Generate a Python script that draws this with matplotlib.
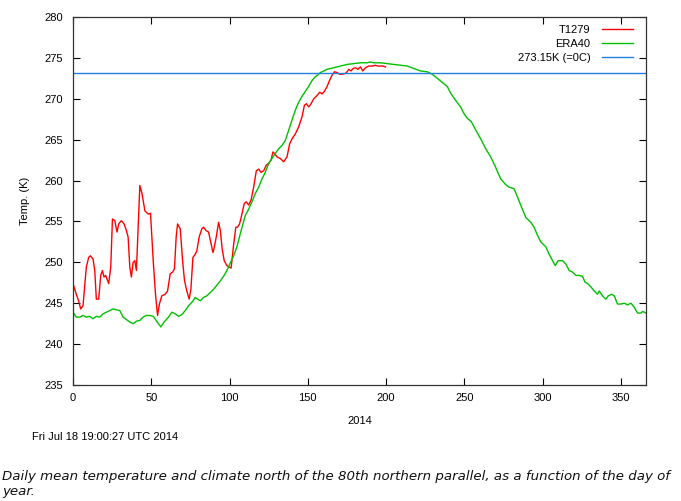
import matplotlib
matplotlib.use("Agg")
import matplotlib.pyplot as plt

# ---- data ----
t1279_day = [0, 2.1, 3.6, 4.9, 6.4, 8.5, 10.0, 11.1, 12.8, 13.9, 14.9, 16.4, 17.7, 18.8, 19.8,
             20.9, 22.8, 24.1, 25.2, 26.7, 28.1, 29.2, 30.9, 32.6, 34.1, 35.2, 36.3, 37.3, 38.4,
             39.5, 40.5, 41.6, 42.7, 44.1, 45.9, 48.0, 49.5, 51.3, 52.7, 54.0, 55.2, 56.7, 58.9,
             60.4, 62.1, 63.6, 64.8, 65.9, 66.8, 68.5, 70.0, 71.2, 72.7, 74.2, 75.3, 76.6, 78.1,
             79.1, 80.6, 82.3, 83.4, 84.9, 86.6, 87.7, 89.4, 90.2, 91.5, 93.0, 94.1, 95.3, 96.6,
             98.3, 100.0, 101.0, 102.5, 104.0, 105.1, 106.4, 107.9, 109.4, 110.7, 112.2, 113.7,
             115.4, 117.1, 118.6, 120.1, 121.8, 123.5, 125.0, 126.5, 127.7, 128.8, 130.3, 132.4,
             134.6, 136.7, 138.4, 139.9, 142.0, 144.2, 146.3, 147.8, 149.1, 150.6, 152.1, 153.8,
             155.9, 157.6, 159.1, 160.6, 162.3, 164.0, 165.5, 167.0, 168.7, 170.4, 171.9, 174.0,
             175.1, 176.1, 177.6, 178.9, 180.4, 181.9, 183.6, 185.1, 186.8, 188.9, 191.1, 193.2,
             194.7, 196.4, 198.1, 199.6]
t1279_temp = [247.4, 246.1, 245.3, 244.3, 244.7, 249.4, 250.6, 250.8, 250.4, 249.0, 245.5, 245.5,
              248.4, 249.0, 248.2, 248.4, 247.4, 249.4, 255.3, 255.1, 253.7, 254.7, 255.1, 254.7,
              253.9, 253.1, 249.4, 248.2, 250.0, 250.2, 249.0, 254.3, 259.4, 258.4, 256.3, 255.9,
              256.0, 250.0, 246.1, 243.5, 244.9, 245.9, 246.1, 246.5, 248.6, 248.8, 249.2, 253.1,
              254.7, 254.1, 250.2, 247.8, 246.5, 245.5, 246.7, 250.6, 251.0, 251.4, 253.1, 254.1,
              254.3, 253.9, 253.7, 252.7, 251.2, 251.8, 253.1, 254.9, 253.9, 251.6, 250.2, 249.6,
              249.4, 249.3, 252.0, 254.3, 254.3, 254.7, 255.9, 257.2, 257.4, 257.0, 257.6, 259.2,
              261.2, 261.4, 261.0, 261.2, 261.9, 262.1, 262.5, 263.5, 263.3, 262.9, 262.7, 262.3,
              262.9, 264.5, 265.1, 265.7, 266.6, 267.8, 269.2, 269.4, 269.0, 269.4, 270.0, 270.4,
              270.8, 270.6, 270.9, 271.5, 272.3, 272.9, 273.3, 273.2, 273.0, 273.0, 273.1, 273.3,
              273.6, 273.4, 273.7, 273.8, 273.6, 273.9, 273.4, 273.8, 274.0, 274.0, 274.1, 274.0,
              274.0, 274.0, 273.9]

era40_day = [0.0, 2.1, 4.3, 6.4, 8.5, 10.7, 12.8, 14.9, 17.1, 19.2, 21.3, 23.5, 25.6, 27.7, 29.9,
             32.0, 34.1, 36.3, 38.4, 40.5, 42.7, 44.8, 46.9, 49.0, 51.3, 53.4, 56.1, 58.2, 61.0,
             63.1, 65.3, 67.4, 69.5, 71.7, 73.8, 75.9, 78.1, 79.6, 81.3, 83.4, 85.5, 87.7, 89.8,
             91.9, 94.0, 96.2, 98.3, 100.4, 102.6, 104.7, 107.0, 110.0, 112.2, 114.3, 116.4, 118.6,
             120.7, 122.8, 125.0, 127.1, 129.2, 131.4, 133.5, 135.6, 137.8, 139.9, 142.0, 144.2,
             146.3, 148.4, 150.5, 152.6, 154.8, 156.9, 158.0, 160.1, 162.3, 164.4, 166.5, 168.7,
             170.8, 172.9, 175.1, 179.3, 183.6, 187.9, 190.0, 192.1, 196.4, 200.7, 204.9, 209.2,
             213.5, 217.7, 222.0, 226.3, 229.5, 232.7, 235.9, 239.1, 241.2, 244.4, 247.6, 249.7,
             251.9, 254.4, 257.2, 260.4, 263.6, 266.8, 270.0, 273.2, 276.4, 278.5, 281.7, 283.9,
             286.4, 289.2, 292.4, 294.5, 296.7, 298.8, 302.0, 304.1, 306.3, 308.0, 309.9, 312.7,
             314.8, 316.9, 319.1, 321.2, 323.3, 325.4, 327.0, 328.7, 330.8, 332.9, 335.0, 336.1,
             338.2, 340.4, 341.9, 344.0, 345.7, 347.8, 350.0, 352.1, 354.2, 356.4, 358.5, 360.6,
             362.8, 363.9, 366.0]
era40_temp = [243.9, 243.3, 243.3, 243.5, 243.3, 243.4, 243.1, 243.4, 243.3, 243.7, 243.9, 244.1,
              244.3, 244.2, 244.1, 243.3, 243.0, 242.7, 242.5, 242.8, 242.9, 243.3, 243.5, 243.5,
              243.4, 242.8, 242.1, 242.7, 243.3, 243.9, 243.7, 243.4, 243.6, 244.1, 244.7, 245.1,
              245.7, 245.5, 245.3, 245.7, 245.9, 246.3, 246.7, 247.2, 247.7, 248.3, 249.0, 249.9,
              250.8, 251.9, 253.6, 255.7, 256.5, 257.4, 258.4, 259.2, 260.2, 261.0, 262.1, 262.7,
              263.3, 263.9, 264.3, 264.9, 266.2, 267.4, 268.6, 269.6, 270.3, 270.9, 271.5, 272.2,
              272.7, 273.0, 273.2, 273.4, 273.6, 273.7, 273.8, 273.9, 274.0, 274.1, 274.2, 274.3,
              274.4, 274.4, 274.5, 274.4, 274.4, 274.3, 274.2, 274.1, 274.0, 273.7, 273.4, 273.3,
              273.0, 272.5, 272.0, 271.5, 270.7, 269.8, 269.0, 268.2, 267.6, 267.2, 266.2, 265.1,
              263.9, 262.9, 261.6, 260.2, 259.5, 259.2, 259.0, 258.0, 256.8, 255.5, 254.9, 254.3,
              253.3, 252.5, 251.9, 251.0, 250.2, 249.6, 250.2, 250.2, 249.8, 249.0, 248.8, 248.4,
              248.4, 248.3, 247.6, 247.4, 247.0, 246.5, 246.1, 246.5, 245.9, 245.5, 245.9, 246.1,
              245.9, 244.9, 244.9, 245.0, 244.8, 245.0, 244.5, 243.8, 243.8, 244.0, 243.8]

freezing_k = 273.15
x_ticks = [0, 50, 100, 150, 200, 250, 300, 350]
y_ticks = [235, 240, 245, 250, 255, 260, 265, 270, 275, 280]
series_labels = ["T1279", "ERA40", "273.15K (=0C)"]
x_label = "2014"
y_label = "Temp. (K)"
timestamp = "Fri Jul 18 19:00:27 UTC 2014"
caption = ("Daily mean temperature and climate north of the 80th northern parallel, as a function of the day of\n"
           "year.")

# ---- figure ----
W, H = 681, 501
fig = plt.figure(figsize=(W / 100, H / 100), dpi=100)
ax = fig.add_axes([73 / W, 1 - 385 / H, (646 - 73) / W, (385 - 17) / H])

chart_font = "Liberation Sans"
ax.plot(t1279_day, t1279_temp, color="#ff0000", lw=1.0, label=series_labels[0])
ax.plot(era40_day, era40_temp, color="#00c000", lw=1.0, label=series_labels[1])
ax.axhline(freezing_k, color="#2080e0", lw=1.0, label=series_labels[2])

ax.set_xlim(0, 366)
ax.set_ylim(235, 280)
ax.set_xticks(x_ticks)
ax.set_yticks(y_ticks)
ax.tick_params(direction="in", length=5, width=0.8, top=True, right=True,
               labelsize=8, colors="black")
ax.tick_params(axis="y", pad=7.5)
ax.tick_params(axis="x", pad=6)
for lab in ax.get_xticklabels() + ax.get_yticklabels():
    lab.set_fontfamily(chart_font)
for s in ax.spines.values():
    s.set_linewidth(0.9)
    s.set_color("#333333")

ax.set_xlabel(x_label, fontsize=8, family=chart_font, labelpad=9)
ax.set_ylabel(y_label, fontsize=8, family=chart_font, labelpad=10)

leg = ax.legend(loc="upper right", bbox_to_anchor=(0.977, 0.979), frameon=False,
                markerfirst=False, borderaxespad=0, borderpad=0, handlelength=2.8,
                handletextpad=1.0, labelspacing=0.38, prop={"family": chart_font, "size": 8})

fig.text(32 / W, 1 - 437 / H, timestamp, fontsize=8, family=chart_font, va="center", ha="left")
fig.text(2 / W, 1 - 484 / H, caption, fontsize=9.6, family="DejaVu Sans", style="italic",
         va="center", ha="left", linespacing=1.2, color="#111111")

fig.savefig("out.png", dpi=100)
